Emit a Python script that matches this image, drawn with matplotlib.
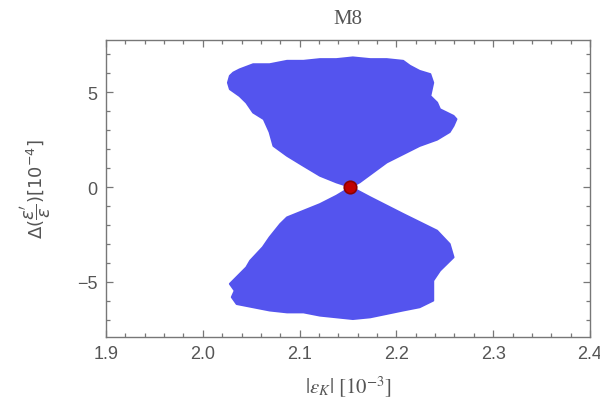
import numpy as np
import matplotlib.pyplot as plt

# outline of the allowed region (upper lobe, clockwise from the crossing point)
upper_x = [2.153, 2.138, 2.121, 2.104, 2.087, 2.073, 2.069, 2.063, 2.052, 2.045,
           2.038, 2.028, 2.026, 2.028, 2.0315, 2.038, 2.052, 2.069, 2.087, 2.104,
           2.121, 2.138, 2.155, 2.173, 2.190, 2.207, 2.214, 2.224, 2.235, 2.238,
           2.235, 2.242, 2.245, 2.259, 2.262, 2.259, 2.255, 2.242, 2.224, 2.190,
           2.162]
upper_y = [0.0, 0.25, 0.6, 1.12, 1.65, 2.17, 2.9, 3.58, 3.93, 4.45,
           4.8, 5.16, 5.5, 5.86, 6.03, 6.2, 6.47, 6.47, 6.65, 6.65,
           6.74, 6.74, 6.83, 6.74, 6.74, 6.65, 6.39, 6.12, 5.95, 5.5,
           4.8, 4.45, 4.1, 3.75, 3.58, 3.23, 2.9, 2.5, 2.17, 1.3,
           0.25]

# lower lobe
lower_x = [2.153, 2.173, 2.207, 2.242, 2.255, 2.259, 2.252, 2.245, 2.238, 2.238,
           2.224, 2.207, 2.190, 2.173, 2.155, 2.138, 2.121, 2.104, 2.087, 2.069,
           2.052, 2.035, 2.030, 2.033, 2.028, 2.045, 2.049, 2.062, 2.069, 2.080,
           2.087, 2.121, 2.138]
lower_y = [0.0, -0.54, -1.42, -2.3, -3.0, -3.7, -4.05, -4.4, -4.93, -5.98,
           -6.33, -6.5, -6.68, -6.86, -6.95, -6.86, -6.77, -6.6, -6.6, -6.5,
           -6.33, -6.16, -5.8, -5.46, -5.1, -4.23, -3.88, -3.17, -2.65, -1.95,
           -1.6, -0.9, -0.46]

# SM point
sm_x = 2.152
sm_y = 0.0

grey = '#555555'
blue = '#5454ee'

fig = plt.figure(figsize=(6, 4.1), dpi=100)
ax = fig.add_axes([0.1767, 0.1756, 0.8066, 0.7244])

ax.fill(upper_x, upper_y, color=blue, lw=1.5, ec=blue, joinstyle='round')
ax.fill(lower_x, lower_y, color=blue, lw=1.5, ec=blue, joinstyle='round')
ax.plot(sm_x, sm_y, 'o', ms=9, mfc='#c00000', mec='#8a0000', mew=1.2)

ax.set_xlim(1.9, 2.4)
ax.set_ylim(-7.9, 7.75)
ax.set_xticks([1.9, 2.0, 2.1, 2.2, 2.3, 2.4])
ax.set_xticklabels(['1.9', '2.0', '2.1', '2.2', '2.3', '2.4'])
ax.set_xticks(np.arange(1.9, 2.4001, 0.02), minor=True)
ax.set_yticks([-5, 0, 5])
ax.set_yticks(np.arange(-7, 8, 1), minor=True)

ax.tick_params(which='both', direction='in', top=True, right=True,
               color='#777777', width=0.9, labelcolor=grey)
ax.tick_params(which='major', length=5, labelsize=13, pad=6)
ax.tick_params(which='minor', length=3)
for lab in ax.get_xticklabels() + ax.get_yticklabels():
    lab.set_family('Liberation Sans')
for sp in ax.spines.values():
    sp.set_color('#777777')
    sp.set_linewidth(1.0)

ax.set_title('M8', fontsize=15, color=grey, family='Liberation Serif', pad=12)
ax.set_xlabel(r'$|\epsilon_K|\ [10^{-3}]$', fontsize=15, color=grey,
              math_fontfamily='stix', labelpad=8)
ax.set_ylabel(r'$\Delta(\dfrac{\epsilon^{\prime}}{\epsilon})[10^{-4}]$', fontsize=13,
              color=grey, math_fontfamily='dejavusans')
ax.yaxis.set_label_coords(-0.11, 0.5)

fig.savefig('out.png', dpi=100)
